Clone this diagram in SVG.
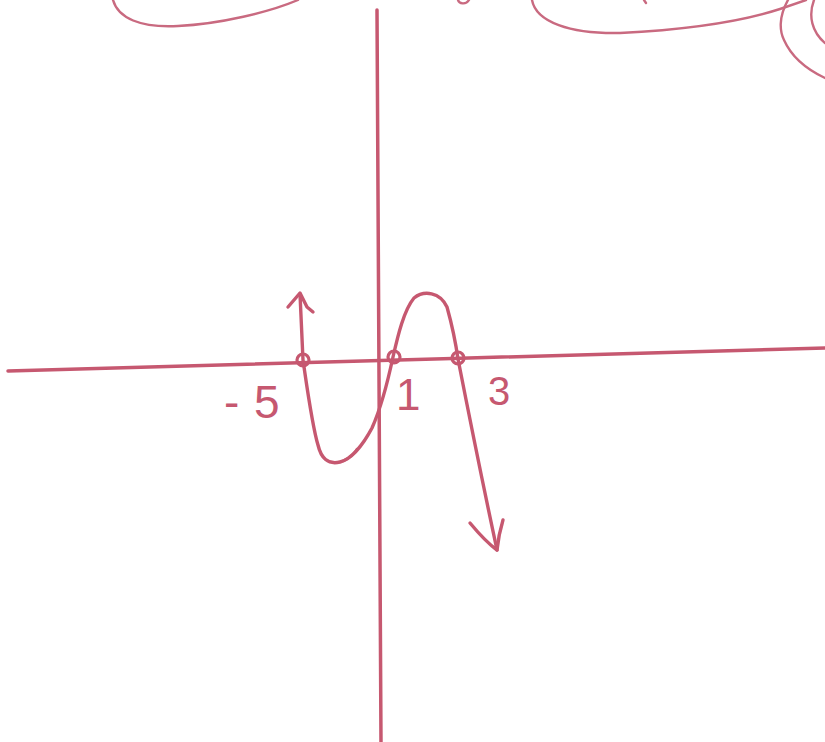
<svg xmlns="http://www.w3.org/2000/svg" width="825" height="742" viewBox="0 0 825 742">
<style>
.ink{fill:none;stroke:#c65870;stroke-linecap:round;stroke-linejoin:round}
.ax{stroke-width:3.5}
.cv{stroke-width:3.4}
.faint{stroke:#c96a80;stroke-width:2.4}
.lbl{font-family:"Liberation Sans",Arial,sans-serif;fill:#c65870;font-weight:400}
</style>
<rect width="825" height="742" fill="#ffffff"/>
<g id="top-sketch">
<path class="ink faint" d="M113,0 C118,18 140,28 178,26 C220,24 270,12 298,0"/>
<path class="ink faint" d="M458,0 C459,4 466,5 469,0"/>
<path class="ink faint" d="M532,0 C536,22 570,34 620,33 C680,30 740,22 780,9 L806,0"/>
<path class="ink faint" d="M644,0 L646,3"/>
<path class="ink faint" d="M788,0 C778,18 780,32 784,40 C792,58 808,70 825,78"/>
<path class="ink faint" d="M814,0 C808,16 812,32 825,43"/>
</g>
<g id="axes">
<path class="ink ax" d="M377,10 C378,200 379,450 381,742"/>
<path class="ink ax" d="M8,371 C200,366 600,354 825,348"/>
</g>
<g id="curve">
<path class="ink cv" d="M300,294 L303,360 C306,380 312,425 318,445 C321,458 328,465 340,462 C352,459 364,443 372,428 C380,410 386,390 393,357 C398,335 404,310 414,298 C424,290 440,292 447,307 C452,325 456,345 458,359 C468,410 482,480 497,550"/>
<path class="ink cv" d="M288,307 L300,293 L307,307 L313,312"/>
<path class="ink cv" d="M470,523 C480,535 490,545 497,550 C498,540 500,530 503,520"/>
<path class="ink" stroke-width="2.6" d="M343,461 C350,458 356,452 357,449"/>
</g>
<g id="roots">
<circle class="ink" stroke-width="3.2" cx="303" cy="360" r="6"/>
<circle class="ink" stroke-width="3.2" cx="394" cy="357" r="6"/>
<circle class="ink" stroke-width="3.2" cx="458" cy="358" r="6"/>
</g>
<g id="labels">
<text class="lbl" font-size="46" x="224" y="418">-<tspan x="254">5</tspan></text>
<text class="lbl" font-size="44" x="396" y="410">1</text>
<text class="lbl" font-size="40" x="488" y="405">3</text>
</g>
</svg>
